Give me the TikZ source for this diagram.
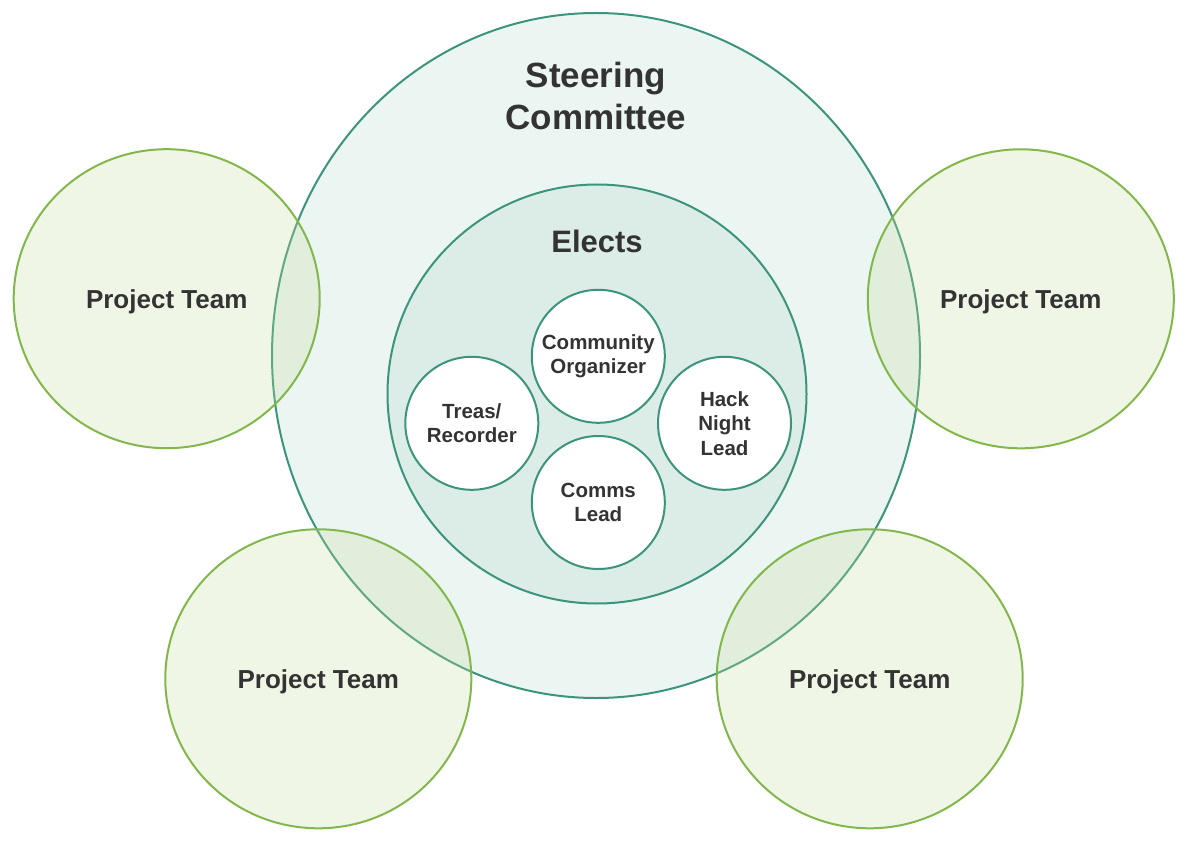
\documentclass[tikz,border=0pt]{standalone}
\usepackage{fontspec}
\setmainfont{Liberation Sans}
\usetikzlibrary{shapes.geometric}
\definecolor{teal}{RGB}{60,148,124}
\definecolor{leaf}{RGB}{130,183,75}
\definecolor{bigfill}{RGB}{235,245,242}
\definecolor{innerfill}{RGB}{220,237,232}
\definecolor{teamfill}{RGB}{200,221,160}
\definecolor{ink}{RGB}{51,51,51}
\tikzset{
  ringline/.style={draw=teal, line width=2pt},
  rolebox/.style={circle, ringline, fill=white, inner sep=0pt, minimum size=133pt,
    align=center, text=ink, font={\bfseries\fontsize{20.5}{24.5}\selectfont}},
  teambox/.style={ellipse, draw=leaf, line width=2pt, fill=teamfill, fill opacity=0.27,
    text opacity=1, inner sep=0pt, minimum width=306pt, minimum height=299pt,
    text=ink, font={\bfseries\fontsize{26}{31}\selectfont}, text height=18.6pt, text depth=0pt},
  titletext/.style={align=center, text=ink, inner sep=0pt}
}
\begin{document}
\begin{tikzpicture}[x=1pt,y=-1pt]
\useasboundingbox (0,0) rectangle (1188,842);
\node[ellipse, ringline, fill=bigfill, inner sep=0pt, minimum width=648pt, minimum height=685pt] (steer) at (596,355.5) {};
\node[circle, ringline, fill=innerfill, inner sep=0pt, minimum size=419pt] (elect) at (597,394) {};
\node[titletext, font={\bfseries\fontsize{35}{42}\selectfont}] (steertxt) at (596,96.3) {Steering\\Committee};
\node[titletext, font={\bfseries\fontsize{31}{37}\selectfont}] (electtxt) at (597,241) {Elects};
\node[rolebox] (org) at (598.3,356.3) {Community\\Organizer};
\node[rolebox] (treas) at (471.8,423.3) {Treas/\\Recorder};
\node[rolebox] (hack) at (724.5,423.3) {Hack\\Night\\Lead};
\node[rolebox] (comms) at (598.3,502.5) {Comms\\Lead};
\node[teambox] (pt1) at (166.7,298.7) {Project Team};
\node[teambox] (pt2) at (1020.8,298.8) {Project Team};
\node[teambox] (pt3) at (318.3,678.8) {Project Team};
\node[teambox] (pt4) at (869.7,678.8) {Project Team};
\end{tikzpicture}
\end{document}
